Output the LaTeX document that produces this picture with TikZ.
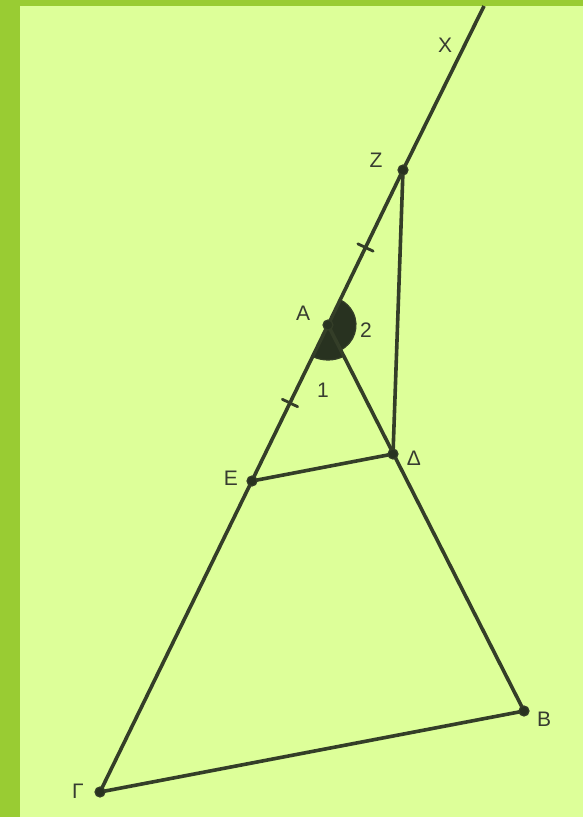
\documentclass[tikz,border=0pt]{standalone}
\usepackage{fontspec}
\setmainfont{Liberation Sans}
\usetikzlibrary{angles,calc}
\definecolor{frame}{RGB}{153,204,51}
\definecolor{paper}{RGB}{221,255,153}
\definecolor{ink}{RGB}{52,62,40}
\definecolor{dotfill}{RGB}{40,50,32}
\definecolor{lblcol}{RGB}{55,60,48}
\begin{document}
\begin{tikzpicture}[x=1pt,y=1pt,line cap=round,
  seg/.style={draw=ink,line width=3.6pt},
  ticks/.style={draw=ink,line width=2.8pt},
  wedge/.style={draw=ink,fill=dotfill,line width=1.2pt},
  lbl/.style={text=lblcol,font=\fontsize{21}{24}\selectfont,inner sep=0pt}]
\fill[frame] (0,0) rectangle (583,-817); \fill[paper] (20,-6) rectangle (583,-817);
\useasboundingbox (0,0) rectangle (583,-817);
\coordinate (A) at (328,-325); \coordinate (Z) at (403,-170); \coordinate (X) at (484,-6);
\coordinate (E) at (252,-481); \coordinate (D) at (393,-454); \coordinate (B) at (524,-711); \coordinate (G) at (100,-792);
\pic[wedge,angle radius=35pt] {angle=E--A--D}; \pic[wedge,angle radius=28pt] {angle=D--A--Z};
\draw[seg] (G)--(A)--(Z); \draw[seg,line cap=butt] (Z)--(X);
\draw[seg] (A)--(B)--(G); \draw[seg] (E)--(D)--(Z);
\draw[ticks] ($(A)!.5!(Z)!8.5pt!90:(Z)$)--($(A)!.5!(Z)!8.5pt!-90:(Z)$);
\draw[ticks] ($(A)!.5!(E)!8.5pt!90:(E)$)--($(A)!.5!(E)!8.5pt!-90:(E)$);
\foreach \p in {A,Z,E,D,B,G}\filldraw[draw=ink,fill=dotfill,line width=1.2pt] (\p) circle (5pt);
\node[lbl] (lX) at (445,-45) {Χ}; \node[lbl] (lZ) at (376,-160) {Ζ}; \node[lbl] (lA) at (303,-313) {Α};
\node[lbl] (l2) at (366,-330) {2}; \node[lbl] (l1) at (323,-390) {1}; \node[lbl] (lE) at (231,-478) {Ε};
\node[lbl] (lD) at (414,-458) {Δ}; \node[lbl] (lB) at (544,-719) {Β}; \node[lbl] (lG) at (78,-791) {Γ};
\end{tikzpicture}
\end{document}
